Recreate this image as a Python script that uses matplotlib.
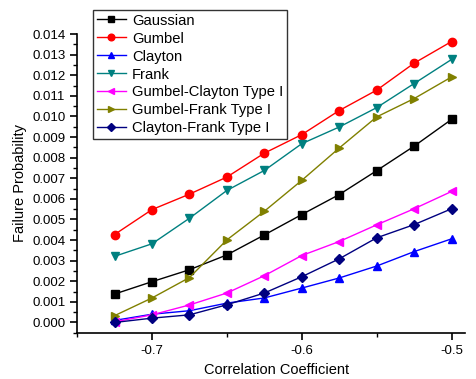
import numpy as np
import matplotlib
matplotlib.use("Agg")
import matplotlib.pyplot as plt
from matplotlib.ticker import MultipleLocator

plt.rcParams["font.family"] = ["Liberation Sans", "DejaVu Sans"]

rho = [-0.725, -0.7, -0.675, -0.65, -0.625, -0.6, -0.575, -0.55, -0.525, -0.5]

gaussian = [0.00138, 0.00198, 0.00256, 0.00328, 0.00425, 0.00524, 0.00621, 0.00737, 0.00856, 0.00986]
gumbel = [0.00427, 0.00548, 0.00623, 0.00706, 0.00822, 0.00912, 0.01029, 0.01128, 0.01259, 0.01364]
clayton = [0.00010, 0.00040, 0.00057, 0.00094, 0.00119, 0.00167, 0.00216, 0.00274, 0.00344, 0.00406]
frank = [0.00321, 0.00382, 0.00506, 0.00641, 0.00738, 0.00868, 0.00949, 0.01043, 0.01160, 0.01277]
gumbel_clayton = [0.00003, 0.00037, 0.00085, 0.00143, 0.00227, 0.00325, 0.00393, 0.00474, 0.00552, 0.00636]
gumbel_frank = [0.00033, 0.00119, 0.00218, 0.00401, 0.00540, 0.00690, 0.00847, 0.00998, 0.01087, 0.01192]
clayton_frank = [0.00000, 0.00021, 0.00037, 0.00086, 0.00143, 0.00222, 0.00309, 0.00411, 0.00475, 0.00552]

series = [
    ("Gaussian", gaussian, "#000000", "s"),
    ("Gumbel", gumbel, "#ff0000", "o"),
    ("Clayton", clayton, "#0000ff", "^"),
    ("Frank", frank, "#008080", "v"),
    ("Gumbel-Clayton Type I", gumbel_clayton, "#ff00ff", "<"),
    ("Gumbel-Frank Type I", gumbel_frank, "#808000", ">"),
    ("Clayton-Frank Type I", clayton_frank, "#000080", "D"),
]

fig = plt.figure(figsize=(4.76, 3.79), dpi=100)
ax = fig.add_axes([0.162, 0.122, 0.815, 0.788])

for name, vals, col, mk in series:
    ms = 5 if mk == "D" else 6
    ax.plot(rho, vals, color=col, marker=mk, markersize=ms, linewidth=1, label=name)

ax.set_xlim(-0.75, -0.491)
ax.set_ylim(-0.0005, 0.014)
ax.xaxis.set_major_locator(MultipleLocator(0.1))
ax.xaxis.set_minor_locator(MultipleLocator(0.05))
ax.yaxis.set_major_locator(MultipleLocator(0.001))
ax.yaxis.set_minor_locator(MultipleLocator(0.0005))
ax.xaxis.set_major_formatter(plt.FuncFormatter(lambda v, p: f"{v:.1f}"))
ax.yaxis.set_major_formatter(plt.FuncFormatter(lambda v, p: f"{v:.3f}"))

for side in ("top", "right"):
    ax.spines[side].set_visible(False)
for side in ("left", "bottom"):
    ax.spines[side].set_linewidth(1.2)
ax.tick_params(which="major", direction="out", length=5, width=1.2, labelsize=9.5)
ax.tick_params(which="minor", direction="out", length=3, width=1)

ax.set_xlabel("Correlation Coefficient", fontsize=10.5)
ax.set_ylabel("Failure Probability", fontsize=10.5)
ax.xaxis.set_label_coords(0.513, -0.1)

leg = ax.legend(loc="upper left", bbox_to_anchor=(0.041, 1.081), fontsize=10.6,
                frameon=True, fancybox=False, edgecolor="black",
                handlelength=2.0, handletextpad=0.4, borderpad=0.25,
                labelspacing=0.27, borderaxespad=0, markerscale=0.8)
leg.get_frame().set_linewidth(1)

fig.savefig("out.png", dpi=100)
